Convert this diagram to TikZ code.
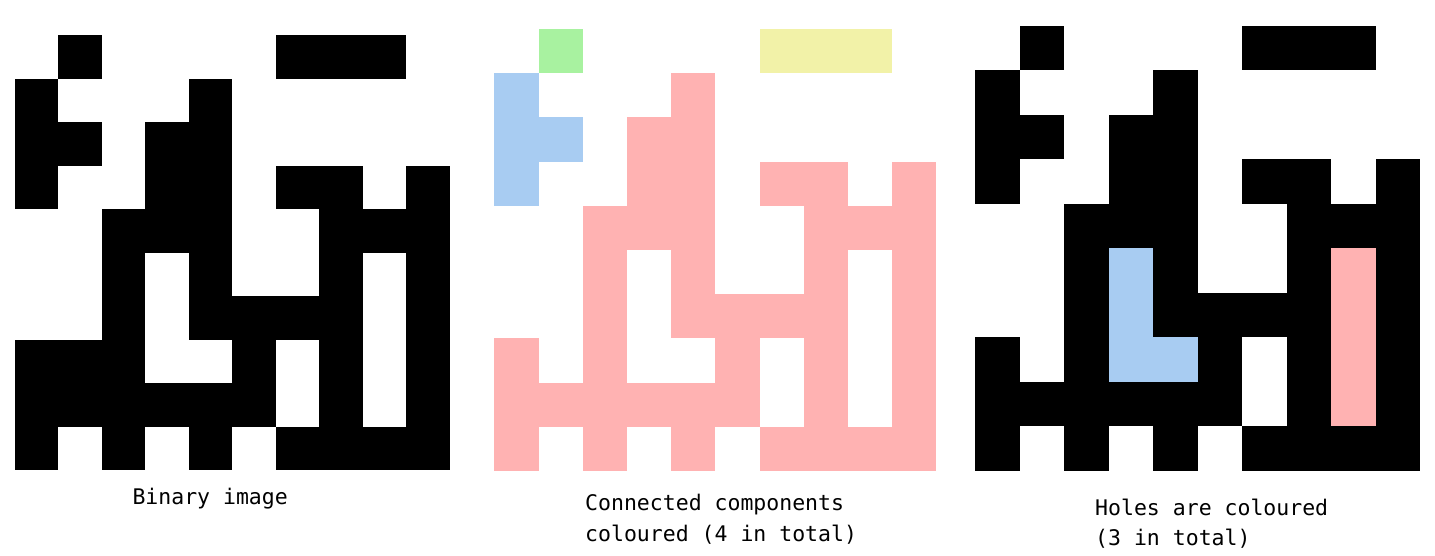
\documentclass[tikz,border=0pt]{standalone}
\usepackage{fontspec}
\newfontfamily\monofont{DejaVu Sans Mono}
\definecolor{ccgreen}{RGB}{168,242,160}
\definecolor{ccyellow}{RGB}{242,242,168}
\definecolor{ccblue}{RGB}{168,204,242}
\definecolor{ccpink}{RGB}{255,178,178}
\tikzset{
  lbl/.style={font=\monofont\fontsize{21.5}{26}\selectfont, inner sep=0pt, anchor=base west}
}
% #1 = fill colour, #2 = list of row/{cols}
\newcommand{\fillcells}[2]{%
  \foreach \r/\cols in {#2} {\foreach \c in \cols {\fill[#1] (\c,\r) rectangle ++(1,1);}}}
\begin{document}
\begin{tikzpicture}[x=1pt, y=-1pt]
  \useasboundingbox (0,0) rectangle (1435,555);

  % Binary image
  \begin{scope}[shift={(14.5,35.3)}, scale=43.5]
    \fillcells{black}{0/{1,6,7,8}, 1/{0,4}, 2/{0,1,3,4}, 3/{0,3,4,6,7,9},
      4/{2,3,4,7,8,9}, 5/{2,4,7,9}, 6/{2,4,5,6,7,9}, 7/{0,1,2,5,7,9},
      8/{0,1,2,3,4,5,7,9}, 9/{0,2,4,6,7,8,9}}
  \end{scope}

  % Connected components
  \begin{scope}[shift={(494.3,29)}, scale=44.2]
    \fillcells{ccgreen}{0/{1}}
    \fillcells{ccyellow}{0/{6,7,8}}
    \fillcells{ccblue}{1/{0}, 2/{0,1}, 3/{0}}
    \fillcells{ccpink}{1/{4}, 2/{3,4}, 3/{3,4,6,7,9},
      4/{2,3,4,7,8,9}, 5/{2,4,7,9}, 6/{2,4,5,6,7,9}, 7/{0,2,5,7,9},
      8/{0,1,2,3,4,5,7,9}, 9/{0,2,4,6,7,8,9}}
  \end{scope}

  % Holes
  \begin{scope}[shift={(975.3,25.7)}, scale=44.5]
    \fillcells{black}{0/{1,6,7,8}, 1/{0,4}, 2/{0,1,3,4}, 3/{0,3,4,6,7,9},
      4/{2,3,4,7,8,9}, 5/{2,4,7,9}, 6/{2,4,5,6,7,9}, 7/{0,2,5,7,9},
      8/{0,1,2,3,4,5,7,9}, 9/{0,2,4,6,7,8,9}}
    \fillcells{ccblue}{5/{3}, 6/{3}, 7/{3,4}}
    \fillcells{ccpink}{5/{8}, 6/{8}, 7/{8}, 8/{8}}
  \end{scope}

  % Labels
  \node[lbl] (binlbl) at (132.3,504) {Binary image};
  \node[lbl] (cclbl) at (585,510) {Connected components};
  \node[lbl] (cclbltwo) at ([yshift=-31pt]cclbl.base west) {coloured (4 in total)};
  \node[lbl] (holelbl) at (1095,515) {Holes are coloured};
  \node[lbl] (holelbltwo) at ([yshift=-30pt]holelbl.base west) {(3 in total)};
\end{tikzpicture}
\end{document}
